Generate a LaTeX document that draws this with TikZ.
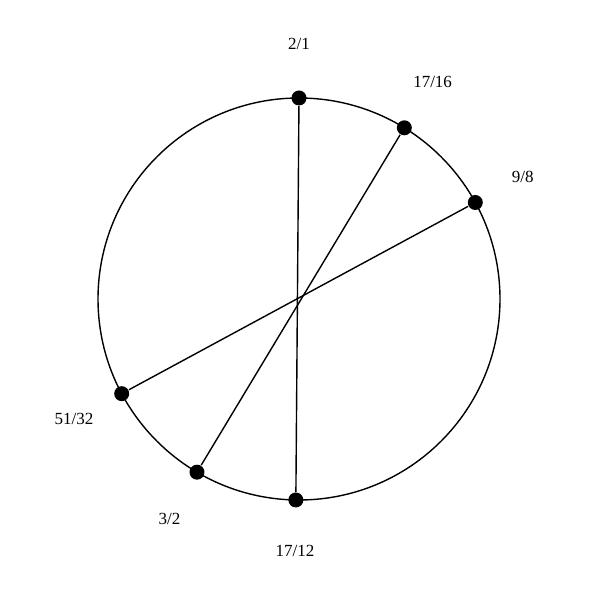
\documentclass[tikz,border=0pt]{standalone}
\usepackage{fontspec}
\setmainfont{Liberation Serif}
\usetikzlibrary{calc}

\begin{document}
\begin{tikzpicture}[x=1pt,y=1pt,line width=1.4pt,
    dot/.style={circle,fill=black,inner sep=0pt,minimum size=15pt},
    ratio/.style={font=\fontsize{17}{19}\selectfont}]
    \useasboundingbox (0,0) rectangle (600,600);

    \coordinate (O) at (299,301);
    \draw (O) circle (201);

    \node [dot] (a) at ($(O)+(90:201)$) {};
    \node [dot] (b) at ($(O)+(58.4:201)$) {};
    \node [dot] (c) at ($(O)+(28.7:201)$) {};
    \node [dot] (d) at ($(O)+(208.1:201)$) {};
    \node [dot] (e) at ($(O)+(239.5:201)$) {};
    \node [dot] (f) at ($(O)+(269.1:201)$) {};

    \draw (a) -- (f);
    \draw (b) -- (e);
    \draw (c) -- (d);

    \node [ratio] (la) at ($(O)+(90:255)$) {2/1};
    \node [ratio] (lb) at ($(O)+(58.4:255)$) {17/16};
    \node [ratio] (lc) at ($(O)+(28.7:255)$) {9/8};
    \node [ratio] (ld) at ($(O)+(208.1:255)$) {51/32};
    \node [ratio] (le) at ($(O)+(239.5:255)$) {3/2};
    \node [ratio] (lf) at ($(O)+(269.1:252)$) {17/12};

\end{tikzpicture}
\end{document}
